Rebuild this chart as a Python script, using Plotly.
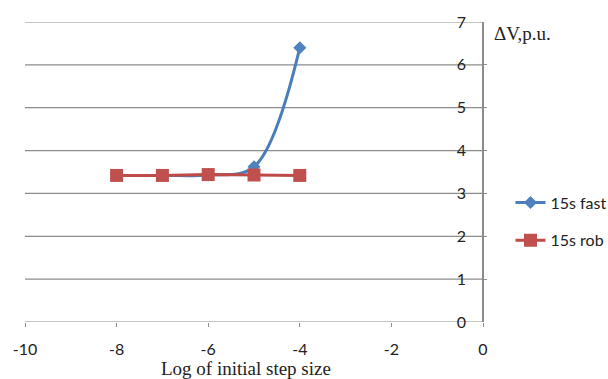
import plotly.graph_objects as go

log_step = [-8, -7, -6, -5, -4]
fast_vals = [3.42, 3.42, 3.43, 3.62, 6.4]
rob_vals = [3.42, 3.42, 3.44, 3.43, 3.42]
x_ticks = [-10, -8, -6, -4, -2, 0]
x_labels = ["-10", "-8", "-6", "-4", "-2", "0"]
y_ticks = [0, 1, 2, 3, 4, 5, 6, 7]

GRID = "#8c8c8c"

fig = go.Figure()
fig.add_trace(go.Scatter(
    x=log_step, y=fast_vals, name="15s fast", mode="lines+markers",
    line=dict(color="#4A7EBB", width=3, shape="spline", smoothing=1.0),
    marker=dict(symbol="diamond", size=10, color="#4F81BD"),
    legendgroup="a",
))
fig.add_trace(go.Scatter(
    x=log_step, y=rob_vals, name="15s rob", mode="lines+markers",
    line=dict(color="#BE4B48", width=3),
    marker=dict(symbol="square", size=13, color="#C0504D"),
    legendgroup="b",
))

fig.update_layout(
    width=608, height=379,
    margin=dict(l=25, r=125, t=22, b=57, autoexpand=False),
    paper_bgcolor="white", plot_bgcolor="white",
    font=dict(family="Lato, Open Sans, sans-serif", size=16, color="#222"),
    showlegend=True,
    legend=dict(x=1.06, y=0.455, xanchor="left", yanchor="top",
                font=dict(size=16, color="#222"), tracegroupgap=14,
                bgcolor="rgba(0,0,0,0)"),
    xaxis=dict(range=[-10, 0], tickvals=x_ticks, ticktext=x_labels,
               showgrid=False, zeroline=False, automargin=False,
               showline=False, ticks="outside", ticklen=4, tickcolor=GRID,
               tickfont=dict(size=16), ticklabelstandoff=9,
               ticklabeloverflow="allow"),
    yaxis=dict(range=[0, 7], tickvals=y_ticks,
               side="left", anchor="free", position=1,
               showgrid=False, zeroline=False, automargin=False,
               showline=True, linecolor=GRID, linewidth=1.5,
               ticks="inside", ticklen=3, tickcolor=GRID,
               tickfont=dict(size=16), ticklabelstandoff=13,
               ticklabeloverflow="allow"),
)
# horizontal gridlines (including y=0 baseline and top line)
for yv in y_ticks:
    fig.add_shape(type="line", xref="paper", yref="y", x0=0, x1=1, y0=yv, y1=yv,
                  line=dict(color=GRID, width=1.2), layer="below")
fig.add_annotation(text="ΔV,p.u.", xref="paper", yref="paper", x=1.02, y=0.963,
                   xanchor="left", yanchor="middle", showarrow=False,
                   font=dict(family="Liberation Serif, serif", size=19, color="#222"))
fig.add_annotation(text="Log of initial step size", xref="paper", yref="paper",
                   x=0.4825, y=-0.155, xanchor="center", yanchor="middle", showarrow=False,
                   font=dict(family="Liberation Serif, serif", size=19, color="#222"))

fig.write_html("out.html")
